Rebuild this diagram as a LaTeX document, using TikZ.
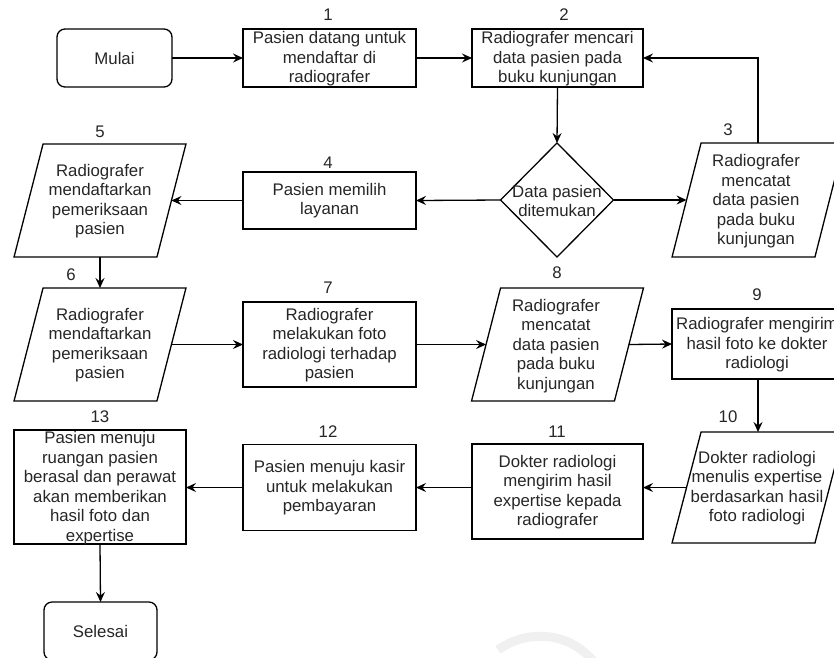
\documentclass[tikz,border=0pt]{standalone}
\usepackage{fontspec}
\setmainfont{Liberation Sans}
\usetikzlibrary{shapes.geometric,arrows.meta}
\newcommand\diagfont{\fontsize{16.8}{19.5}\selectfont}
\tikzset{
  base/.style={draw=black, line width=1.3pt, inner sep=0pt, outer sep=0pt},
  procbox/.style={base, rectangle},
  termbox/.style={base, rectangle, rounded corners=8pt},
  decbox/.style={base, diamond},
  iobox/.style={base, inner sep=2pt, trapezium, trapezium left angle=75.7, trapezium right angle=104.3,
    trapezium stretches=true, minimum width=172pt},
  txt/.style={font=\diagfont, align=center, text=black!85, inner sep=0pt},
  num/.style={font=\diagfont, text=black!85, inner sep=0pt},
  flow/.style={line width=1.3pt, -{Stealth[length=10pt,width=9pt,inset=3.5pt]}},
}
\begin{document}
\begin{tikzpicture}[x=1pt,y=-1pt]
\useasboundingbox (0,0) rectangle (834,657);

% faint background mark
\draw[black!6, line width=9pt] (498,650) .. controls (525,630) and (568,630) .. (594,662);

% ---- shapes ----
\node[termbox, minimum width=115pt, minimum height=58pt] (mulai) at (114.5,58) {};
\node[procbox, minimum width=173pt, minimum height=58pt] (b1) at (329.5,58) {};
\node[procbox, minimum width=171pt, minimum height=58pt] (b2) at (557.5,58) {};
\node[decbox, minimum width=113pt, minimum height=114pt] (dia) at (557,200) {};
\node[iobox, minimum height=114pt] (p3) at (758,200) {};
\node[procbox, minimum width=173pt, minimum height=57pt] (b4) at (329.5,200.5) {};
\node[iobox, minimum height=113pt] (p5) at (100,200.5) {};
\node[iobox, minimum height=113pt] (p6) at (100,344.5) {};
\node[procbox, minimum width=173pt, minimum height=85pt] (b7) at (329.5,344.5) {};
\node[iobox, minimum height=113pt] (p8) at (557.5,344.5) {};
\node[procbox, minimum width=172pt, minimum height=70pt] (b9) at (758,344) {};
\node[iobox, minimum height=111pt] (p10) at (758,487.5) {};
\node[procbox, minimum width=171pt, minimum height=95pt] (b11) at (557.5,491.5) {};
\node[procbox, minimum width=173pt, minimum height=86pt] (b12) at (329.5,487.5) {};
\node[procbox, minimum width=172pt, minimum height=114pt] (b13) at (100,487) {};
\node[termbox, minimum width=113pt, minimum height=58pt] (selesai) at (100.5,631) {};

% ---- texts ----
\node[txt] (mulai-t) at (mulai) {Mulai};
\node[txt] (b1-t) at (329.5,59) {Pasien datang untuk\\mendaftar di\\radiografer};
\node[txt] (b2-t) at (557.5,59) {Radiografer mencari\\data pasien pada\\buku kunjungan};
\node[txt] (dia-t) at (557,201) {Data pasien\\ditemukan};
\node[txt] (p3-t) at (756,201.5) {Radiografer\\mencatat\\data pasien\\pada buku\\kunjungan};
\node[txt] (b4-t) at (b4) {Pasien memilih\\layanan};
\node[txt] (p5-t) at (100,201) {Radiografer\\mendaftarkan\\pemeriksaan\\pasien};
\node[txt] (p6-t) at (100,345) {Radiografer\\mendaftarkan\\pemeriksaan\\pasien};
\node[txt] (b7-t) at (329.5,345) {Radiografer\\melakukan foto\\radiologi terhadap\\pasien};
\node[txt] (p8-t) at (556,346) {Radiografer\\mencatat\\data pasien\\pada buku\\kunjungan};
\node[txt] (b9-t) at (757,345) {Radiografer mengirim\\hasil foto ke dokter\\radiologi};
\node[txt] (p10-t) at (757,488) {Dokter radiologi\\menulis expertise\\berdasarkan hasil\\foto radiologi};
\node[txt] (b11-t) at (557.5,492) {Dokter radiologi\\mengirim hasil\\expertise kepada\\radiografer};
\node[txt] (b12-t) at (329.5,488) {Pasien menuju kasir\\untuk melakukan\\pembayaran};
\node[txt] (b13-t) at (100,488) {Pasien menuju\\ruangan pasien\\berasal dan perawat\\akan memberikan\\hasil foto dan\\expertise};
\node[txt] (selesai-t) at (selesai) {Selesai};

% ---- step numbers ----
\node[num] (n1) at (328,15) {1};
\node[num] (n2) at (564,15) {2};
\node[num] (n3) at (728,130) {3};
\node[num] (n4) at (328,163) {4};
\node[num] (n5) at (100,132) {5};
\node[num] (n6) at (71,275) {6};
\node[num] (n7) at (328,288) {7};
\node[num] (n8) at (557,273) {8};
\node[num] (n9) at (757,295) {9};
\node[num] (n10) at (728,417) {10};
\node[num] (n11) at (557,432) {11};
\node[num] (n12) at (328,432) {12};
\node[num] (n13) at (100,417) {13};

% ---- connectors ----
\draw[flow] (mulai.east) -- (b1.west);
\draw[flow] (b1.east) -- (b2.west);
\draw[flow] (b2.south) -- (dia.north);
\draw[flow] (dia.east) -- (p3.west);
\draw[flow] (p3.north) |- (b2.east);
\draw[flow] (dia.west) -- (b4.east);
\draw[flow] (b4.west) -- (p5.east);
\draw[flow] (p5.south) -- (p6.north);
\draw[flow] (p6.east) -- (b7.west);
\draw[flow] (b7.east) -- (p8.west);
\draw[flow] (p8.east) -- (b9.west);
\draw[flow] (b9.south) -- (p10.north);
\draw[flow] (p10.west) -- (p10.west -| b11.east);
\draw[flow] (b11.west |- b12.east) -- (b12.east);
\draw[flow] (b12.west) -- (b12.west -| b13.east);
\draw[flow] (b13.south) -- (selesai.north);
\end{tikzpicture}
\end{document}
